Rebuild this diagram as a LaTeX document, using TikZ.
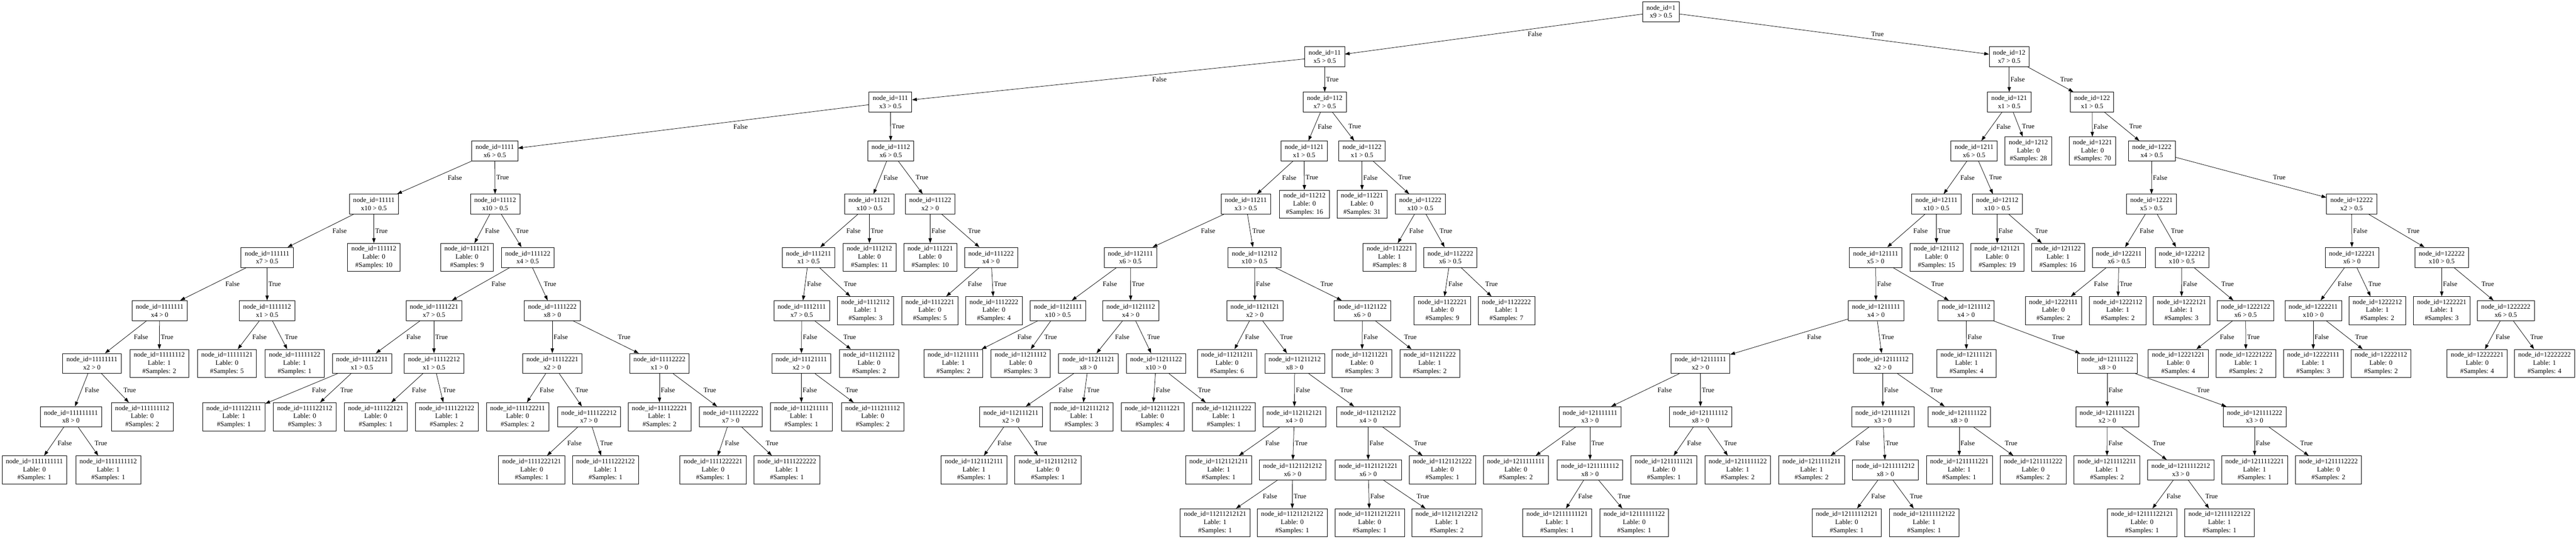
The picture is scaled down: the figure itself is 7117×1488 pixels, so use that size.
\documentclass[tikz,border=0pt]{standalone}
\usepackage{fontspec}
\setmainfont{Liberation Serif}
\usetikzlibrary{arrows.meta,calc}
\tikzset{
  dtbox/.style={draw=black, line width=0.8pt, rectangle, align=center, inner xsep=7.9pt, inner ysep=0pt,
    minimum width=54pt, font=\fontsize{14pt}{16.8pt}\selectfont},
  inode/.style={dtbox, minimum height=41.5pt},
  leafnode/.style={dtbox, minimum height=58.3pt},
  edge/.style={draw=black, line width=0.8pt, -{Triangle[length=10pt,width=7pt]}},
  elab/.style={anchor=west, inner xsep=2.5pt, inner ysep=1pt, font=\fontsize{14pt}{16.8pt}\selectfont}
}
\newcommand\dtIn[4]{\node[inode] (n#1) at (#2,#3) {node\_id=#1\\#4};}
\newcommand\dtLf[5]{\node[leafnode] (n#1) at (#2,#3) {node\_id=#1\\Lable: #4\\\#Samples: #5};}
\newcommand\dtE[3]{\draw[edge] (n#1) -- (n#2);
  \path let \p1=(n#1.center), \p2=(n#2.center), \n1={0.1*abs(\x2-\x1)} in
    node[elab] at ($(\p1)!0.5!(\p2)+(\n1,0pt)$) {#3};}
\newcommand\dtS[1]{\dtE{#1}{#11}{False}\dtE{#1}{#12}{True}}
\begin{document}
\begin{tikzpicture}[x=0.75pt,y=-0.75pt]
\useasboundingbox (0,0) rectangle (7117,1488);
% depth 0
\dtIn{1}{4589}{32}{x9 > 0.5}
% depth 1
\dtIn{11}{3660}{157}{x5 > 0.5}
\dtIn{12}{5551}{157}{x7 > 0.5}
% depth 2
\dtIn{111}{2460}{282}{x3 > 0.5}
\dtIn{112}{3660}{282}{x7 > 0.5}
\dtIn{121}{5551}{282}{x1 > 0.5}
\dtIn{122}{5780}{282}{x1 > 0.5}
% depth 3
\dtIn{1111}{1367}{417}{x6 > 0.5}
\dtIn{1112}{2461}{417}{x6 > 0.5}
\dtIn{1121}{3603}{417}{x1 > 0.5}
\dtIn{1122}{3763}{417}{x1 > 0.5}
\dtIn{1211}{5454}{417}{x6 > 0.5}
\dtIn{1222}{5945}{417}{x4 > 0.5}
\dtLf{1212}{5604}{417}{0}{28}
\dtLf{1221}{5781}{417}{0}{70}
% depth 4
\dtIn{11111}{1033}{564}{x10 > 0.5}
\dtIn{11112}{1368}{564}{x10 > 0.5}
\dtIn{11121}{2402}{564}{x10 > 0.5}
\dtIn{11122}{2570}{564}{x2 > 0}
\dtIn{11211}{3442}{564}{x3 > 0.5}
\dtIn{11222}{3924}{564}{x10 > 0.5}
\dtIn{12111}{5350}{564}{x10 > 0.5}
\dtIn{12112}{5518}{564}{x10 > 0.5}
\dtIn{12221}{5944}{564}{x5 > 0.5}
\dtIn{12222}{6497}{564}{x2 > 0.5}
\dtLf{11212}{3604}{564}{0}{16}
\dtLf{11221}{3763}{564}{0}{31}
% depth 5
\dtIn{111111}{738}{711}{x7 > 0.5}
\dtIn{111122}{1458}{711}{x4 > 0.5}
\dtIn{111211}{2234}{711}{x1 > 0.5}
\dtIn{111222}{2738}{711}{x4 > 0}
\dtIn{112111}{3123}{711}{x6 > 0.5}
\dtIn{112112}{3466}{711}{x10 > 0.5}
\dtIn{112222}{4007}{711}{x6 > 0.5}
\dtIn{121111}{5182}{711}{x5 > 0}
\dtIn{122211}{5854}{711}{x6 > 0.5}
\dtIn{122212}{6028}{711}{x10 > 0.5}
\dtIn{122221}{6498}{711}{x6 > 0}
\dtIn{122222}{6746}{711}{x10 > 0.5}
\dtLf{111112}{1033}{711}{0}{10}
\dtLf{111121}{1290}{711}{0}{9}
\dtLf{111212}{2402}{711}{0}{11}
\dtLf{111221}{2570}{711}{0}{10}
\dtLf{112221}{3839}{711}{1}{8}
\dtLf{121112}{5350}{711}{0}{15}
\dtLf{121121}{5518}{711}{0}{19}
\dtLf{121122}{5686}{711}{1}{16}
% depth 6
\dtIn{1111111}{441}{858}{x4 > 0}
\dtIn{1111112}{738}{858}{x1 > 0.5}
\dtIn{1111221}{1199}{858}{x7 > 0.5}
\dtIn{1111222}{1526}{858}{x8 > 0}
\dtIn{1112111}{2215}{858}{x7 > 0.5}
\dtIn{1121111}{2923}{858}{x10 > 0.5}
\dtIn{1121112}{3124}{858}{x4 > 0}
\dtIn{1121121}{3467}{858}{x2 > 0}
\dtIn{1121122}{3764}{858}{x6 > 0}
\dtIn{1211111}{5183}{858}{x4 > 0}
\dtIn{1211112}{5432}{858}{x4 > 0}
\dtIn{1222122}{6204}{858}{x6 > 0.5}
\dtIn{1222211}{6391}{858}{x10 > 0}
\dtIn{1222222}{6923}{858}{x6 > 0.5}
\dtLf{1112112}{2391}{858}{1}{3}
\dtLf{1112221}{2569}{858}{0}{5}
\dtLf{1112222}{2746}{858}{0}{4}
\dtLf{1122221}{3985}{858}{0}{9}
\dtLf{1122222}{4162}{858}{1}{7}
\dtLf{1222111}{5673}{858}{0}{2}
\dtLf{1222112}{5851}{858}{1}{2}
\dtLf{1222121}{6027}{858}{1}{3}
\dtLf{1222212}{6568}{858}{1}{2}
\dtLf{1222221}{6746}{858}{1}{3}
% depth 7
\dtIn{11111111}{254}{1004}{x2 > 0}
\dtIn{11112211}{1000}{1004}{x1 > 0.5}
\dtIn{11112212}{1199}{1004}{x1 > 0.5}
\dtIn{11112221}{1526}{1004}{x2 > 0}
\dtIn{11112222}{1822}{1004}{x1 > 0}
\dtIn{11121111}{2214}{1004}{x2 > 0}
\dtIn{11211121}{3007}{1004}{x8 > 0}
\dtIn{11211122}{3194}{1004}{x10 > 0}
\dtIn{11211212}{3577}{1004}{x8 > 0}
\dtIn{12111111}{4698}{1004}{x2 > 0}
\dtIn{12111112}{5202}{1004}{x2 > 0}
\dtIn{12111122}{5822}{1004}{x8 > 0}
\dtLf{11111112}{440}{1004}{1}{2}
\dtLf{11111121}{627}{1004}{0}{5}
\dtLf{11111122}{814}{1004}{1}{1}
\dtLf{11121112}{2401}{1004}{0}{2}
\dtLf{11211111}{2634}{1004}{1}{2}
\dtLf{11211112}{2820}{1004}{0}{3}
\dtLf{11211211}{3390}{1004}{0}{6}
\dtLf{11211221}{3763}{1004}{0}{3}
\dtLf{11211222}{3950}{1004}{1}{2}
\dtLf{12111121}{5433}{1004}{1}{4}
\dtLf{12221221}{6018}{1004}{0}{4}
\dtLf{12221222}{6205}{1004}{1}{2}
\dtLf{12222111}{6391}{1004}{1}{3}
\dtLf{12222112}{6578}{1004}{0}{2}
\dtLf{12222221}{6844}{1004}{0}{4}
\dtLf{12222222}{7030}{1004}{1}{4}
% depth 8
\dtIn{111111111}{196}{1151}{x8 > 0}
\dtIn{111122212}{1627}{1151}{x7 > 0}
\dtIn{111122222}{2019}{1151}{x7 > 0}
\dtIn{112111211}{2793}{1151}{x2 > 0}
\dtIn{112112121}{3576}{1151}{x4 > 0}
\dtIn{112112122}{3780}{1151}{x4 > 0}
\dtIn{121111111}{4393}{1151}{x3 > 0}
\dtIn{121111112}{4698}{1151}{x8 > 0}
\dtIn{121111121}{5202}{1151}{x3 > 0}
\dtIn{121111122}{5413}{1151}{x8 > 0}
\dtIn{121111221}{5822}{1151}{x2 > 0}
\dtIn{121111222}{6229}{1151}{x3 > 0}
\dtLf{111111112}{393}{1151}{0}{2}
\dtLf{111122111}{646}{1151}{1}{1}
\dtLf{111122112}{842}{1151}{0}{3}
\dtLf{111122121}{1038}{1151}{0}{1}
\dtLf{111122122}{1234}{1151}{1}{2}
\dtLf{111122211}{1430}{1151}{0}{2}
\dtLf{111122221}{1822}{1151}{1}{2}
\dtLf{111211111}{2214}{1151}{1}{1}
\dtLf{111211112}{2411}{1151}{0}{2}
\dtLf{112111212}{2988}{1151}{1}{3}
\dtLf{112111221}{3184}{1151}{0}{4}
\dtLf{112111222}{3381}{1151}{1}{1}
% depth 9
\dtIn{1121121212}{3571}{1298}{x6 > 0}
\dtIn{1121121221}{3780}{1298}{x6 > 0}
\dtIn{1211111112}{4393}{1298}{x8 > 0}
\dtIn{1211111212}{5209}{1298}{x8 > 0}
\dtIn{1211112212}{6025}{1298}{x3 > 0}
\dtLf{1111111111}{95}{1298}{0}{1}
\dtLf{1111111112}{299}{1298}{1}{1}
\dtLf{1111222121}{1469}{1298}{0}{1}
\dtLf{1111222122}{1673}{1298}{1}{1}
\dtLf{1111222221}{1970}{1298}{0}{1}
\dtLf{1111222222}{2174}{1298}{1}{1}
\dtLf{1121112111}{2691}{1298}{1}{1}
\dtLf{1121112112}{2895}{1298}{0}{1}
\dtLf{1121121211}{3367}{1298}{1}{1}
\dtLf{1121121222}{3985}{1298}{0}{1}
\dtLf{1211111111}{4188}{1298}{0}{2}
\dtLf{1211111121}{4597}{1298}{0}{1}
\dtLf{1211111122}{4801}{1298}{1}{2}
\dtLf{1211111211}{5005}{1298}{1}{2}
\dtLf{1211111221}{5413}{1298}{1}{1}
\dtLf{1211111222}{5617}{1298}{0}{2}
\dtLf{1211112211}{5821}{1298}{1}{2}
\dtLf{1211112221}{6229}{1298}{1}{1}
\dtLf{1211112222}{6433}{1298}{0}{2}
% depth 10
\dtLf{11211212121}{3357}{1444}{1}{1}
\dtLf{11211212122}{3570}{1444}{0}{1}
\dtLf{11211212211}{3784}{1444}{0}{1}
\dtLf{11211212212}{3997}{1444}{1}{2}
\dtLf{12111111121}{4302}{1444}{1}{1}
\dtLf{12111111122}{4515}{1444}{0}{1}
\dtLf{12111112121}{5102}{1444}{0}{1}
\dtLf{12111112122}{5316}{1444}{1}{1}
\dtLf{12111122121}{5918}{1444}{0}{1}
\dtLf{12111122122}{6132}{1444}{1}{1}
% edges
\dtS{1}
\dtS{11}\dtS{12}
\dtS{111}\dtS{112}\dtS{121}\dtS{122}
\dtS{1111}\dtS{1112}\dtS{1121}\dtS{1122}\dtS{1211}\dtS{1222}
\dtS{11111}\dtS{11112}\dtS{11121}\dtS{11122}\dtS{11211}\dtS{11222}\dtS{12111}\dtS{12112}\dtS{12221}\dtS{12222}
\dtS{111111}\dtS{111122}\dtS{111211}\dtS{111222}\dtS{112111}\dtS{112112}\dtS{112222}\dtS{121111}\dtS{122211}\dtS{122212}\dtS{122221}\dtS{122222}
\dtS{1111111}\dtS{1111112}\dtS{1111221}\dtS{1111222}\dtS{1112111}\dtS{1121111}\dtS{1121112}\dtS{1121121}\dtS{1121122}\dtS{1211111}\dtS{1211112}\dtS{1222122}\dtS{1222211}\dtS{1222222}
\dtS{11111111}\dtS{11112211}\dtS{11112212}\dtS{11112221}\dtS{11112222}\dtS{11121111}\dtS{11211121}\dtS{11211122}\dtS{11211212}\dtS{12111111}\dtS{12111112}\dtS{12111122}
\dtS{111111111}\dtS{111122212}\dtS{111122222}\dtS{112111211}\dtS{112112121}\dtS{112112122}\dtS{121111111}\dtS{121111112}\dtS{121111121}\dtS{121111122}\dtS{121111221}\dtS{121111222}
\dtS{1121121212}\dtS{1121121221}\dtS{1211111112}\dtS{1211111212}\dtS{1211112212}
\end{tikzpicture}
\end{document}
